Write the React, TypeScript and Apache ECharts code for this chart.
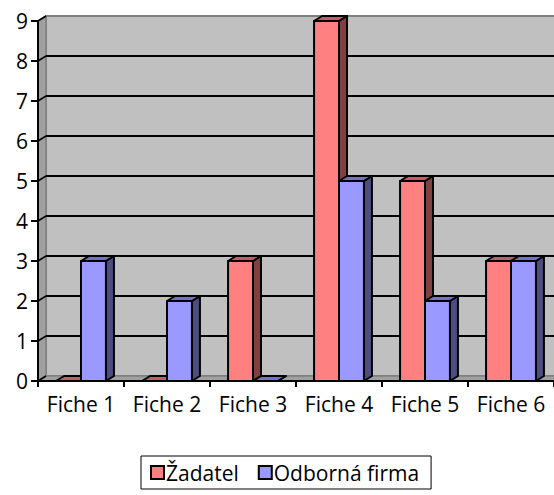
import React, { useEffect, useRef } from "react";
import * as echarts from "echarts";

const categories = ["Fiche 1", "Fiche 2", "Fiche 3", "Fiche 4", "Fiche 5", "Fiche 6"];
const zadatel = [0, 0, 3, 9, 5, 3];
const odborna = [3, 2, 0, 5, 2, 3];
const yTickValues = [0, 1, 2, 3, 4, 5, 6, 7, 8, 9];
const seriesNames = ["Žadatel", "Odborná firma"];

const DX = 8;
const DY = -5;
const FONT = "'Open Sans', sans-serif";
const FS = 21;

const palette = [
  { front: "#FF8080", side: "#804040", top: "#C06060" },
  { front: "#9999FF", side: "#4D4D80", top: "#7373BF" },
];

function makeBarRender(seriesIdx: number) {
  return (params: any, api: any) => {
    const idx = api.value(0);
    const val = api.value(1);
    const top = api.coord([idx, val]);
    const base = api.coord([idx, 0]);
    const band = api.size([1, 0])[0];
    const bw = band * 0.29;
    const cx = top[0];
    const x0 = seriesIdx === 0 ? cx - bw : cx;
    const x1 = x0 + bw;
    const yT = top[1];
    const yB = base[1];
    const c = palette[seriesIdx];
    const stroke = { stroke: "#000", lineWidth: 2, lineJoin: "round" };
    return {
      type: "group",
      children: [
        {
          type: "polygon",
          shape: { points: [[x1, yT], [x1 + DX, yT + DY], [x1 + DX, yB + DY], [x1, yB]] },
          style: { fill: c.side, ...stroke },
        },
        {
          type: "polygon",
          shape: { points: [[x0, yT], [x0 + DX, yT + DY], [x1 + DX, yT + DY], [x1, yT]] },
          style: { fill: c.top, ...stroke },
        },
        {
          type: "rect",
          shape: { x: x0, y: yT, width: bw, height: yB - yT },
          style: { fill: c.front, ...stroke },
        },
      ],
    };
  };
}

function renderWalls(params: any, api: any) {
  const cs = params.coordSys;
  const L = cs.x;
  const R = cs.x + cs.width;
  const T = cs.y;
  const B = cs.y + cs.height;
  const children: any[] = [];
  children.push({
    type: "polygon",
    shape: { points: [[L + DX, T + DY], [R + DX, T + DY], [R + DX, B + DY], [L + DX, B + DY]] },
    style: { fill: "#C0C0C0", stroke: "#808080", lineWidth: 2 },
  });
  children.push({
    type: "polygon",
    shape: { points: [[L, T], [L + DX, T + DY], [L + DX, B + DY], [L, B]] },
    style: { fill: "#A0A0A0", stroke: "#808080", lineWidth: 1.5 },
  });
  children.push({
    type: "polygon",
    shape: { points: [[L, B], [L + DX, B + DY], [R + DX, B + DY], [R, B]] },
    style: { fill: "#A0A0A0", stroke: "#808080", lineWidth: 1.5 },
  });
  yTickValues.forEach((v) => {
    const y = api.coord([0, v])[1];
    if (v > 0 && v < 9) {
      children.push({
        type: "line",
        shape: { x1: L + DX, y1: y + DY, x2: R + DX, y2: y + DY },
        style: { stroke: "#000", lineWidth: 2 },
      });
    }
    children.push({
      type: "line",
      shape: { x1: L, y1: y, x2: L + DX, y2: y + DY },
      style: { stroke: "#000", lineWidth: 1.5 },
    });
  });
  return { type: "group", children };
}

export default function App() {
  const ref = useRef<HTMLDivElement>(null);
  useEffect(() => {
    if (!ref.current) return;
    const chart = echarts.init(ref.current, null, { renderer: "svg" });
    chart.setOption({
      animation: false,
      backgroundColor: "#FFFFFF",
      textStyle: { fontFamily: FONT },
      grid: { left: 38, top: 21, width: 521, height: 360, containLabel: false },
      legend: {
        data: seriesNames,
        left: 141,
        top: 456,
        padding: [6, 12, 6, 9],
        itemGap: 19,
        itemWidth: 13,
        itemHeight: 13,
        icon: "rect",
        borderColor: "#000",
        borderWidth: 1,
        itemStyle: { borderColor: "#000", borderWidth: 2 },
        textStyle: { fontSize: FS, color: "#000", fontFamily: FONT, padding: [0, 0, 0, -3] },
      },
      xAxis: {
        type: "category",
        data: categories,
        z: 10,
        axisLine: { show: true, lineStyle: { color: "#000", width: 2 } },
        axisTick: { show: true, interval: 0, length: 6, lineStyle: { color: "#000", width: 2 } },
        axisLabel: { interval: 0, fontSize: FS, color: "#000", margin: 12, fontFamily: FONT },
        splitLine: { show: false },
      },
      yAxis: {
        type: "value",
        min: 0,
        max: 9,
        interval: 1,
        z: 10,
        axisLine: { show: true, lineStyle: { color: "#000", width: 2 } },
        axisTick: { show: true, length: 7, lineStyle: { color: "#000", width: 2 } },
        axisLabel: { fontSize: FS, color: "#000", margin: 10, fontFamily: FONT },
        splitLine: { show: false },
      },
      series: [
        {
          name: "walls",
          type: "custom",
          renderItem: renderWalls,
          data: [[0, 0]],
          z: 1,
          silent: true,
        },
        {
          name: seriesNames[0],
          type: "custom",
          renderItem: makeBarRender(0),
          data: zadatel.map((v, i) => [i, v]),
          encode: { x: 0, y: 1 },
          itemStyle: { color: palette[0].front, borderColor: "#000", borderWidth: 2 },
          z: 3,
        },
        {
          name: seriesNames[1],
          type: "custom",
          renderItem: makeBarRender(1),
          data: odborna.map((v, i) => [i, v]),
          encode: { x: 0, y: 1 },
          itemStyle: { color: palette[1].front, borderColor: "#000", borderWidth: 2 },
          z: 4,
        },
      ],
    });
    return () => chart.dispose();
  }, []);
  return (
    <div
      ref={ref}
      style={{ position: "fixed", left: 0, top: 0, width: 554, height: 495, background: "#fff" }}
    />
  );
}
